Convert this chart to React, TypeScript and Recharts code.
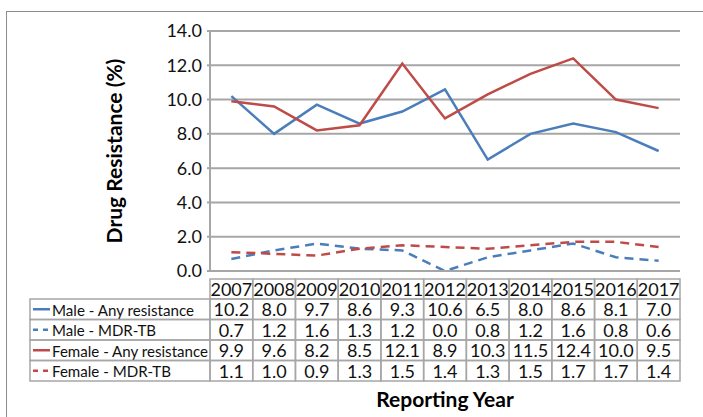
import React from "react";
import { LineChart, Line, XAxis, YAxis, CartesianGrid } from "recharts";

const YEARS = ["2007", "2008", "2009", "2010", "2011", "2012", "2013", "2014", "2015", "2016", "2017"];
const MALE_ANY = [10.2, 8.0, 9.7, 8.6, 9.3, 10.6, 6.5, 8.0, 8.6, 8.1, 7.0];
const MALE_MDR = [0.7, 1.2, 1.6, 1.3, 1.2, 0.0, 0.8, 1.2, 1.6, 0.8, 0.6];
const FEMALE_ANY = [9.9, 9.6, 8.2, 8.5, 12.1, 8.9, 10.3, 11.5, 12.4, 10.0, 9.5];
const FEMALE_MDR = [1.1, 1.0, 0.9, 1.3, 1.5, 1.4, 1.3, 1.5, 1.7, 1.7, 1.4];
const Y_TICKS = [0, 2, 4, 6, 8, 10, 12, 14];

const BLUE = "#4a7ebb";
const RED = "#be4b48";
const GRID = "#a6a6a6";
const FONT = "Lato, 'Open Sans', sans-serif";

const SERIES = [
  { key: "maleAny", name: "Male - Any resistance", values: MALE_ANY, color: BLUE, dash: undefined as string | undefined },
  { key: "maleMdr", name: "Male - MDR-TB", values: MALE_MDR, color: BLUE, dash: "9 6" },
  { key: "femaleAny", name: "Female - Any resistance", values: FEMALE_ANY, color: RED, dash: undefined },
  { key: "femaleMdr", name: "Female - MDR-TB", values: FEMALE_MDR, color: RED, dash: "9 6" },
];

// rendered widths of the legend labels in the table (the original font is narrower)
const LEGEND_TEXT_LEN = [142, 104, 156, 119];

const data = YEARS.map((year, i) => {
  const row: Record<string, string | number> = { year };
  for (const s of SERIES) row[s.key] = s.values[i];
  return row;
});

const W = 703;
const H = 417;
const MARGIN = { top: 31, right: 23, bottom: 0, left: 0 };
const Y_AXIS_W = 210;
const X_AXIS_H = 146;
const CELL_W = (W - MARGIN.left - Y_AXIS_W - MARGIN.right) / YEARS.length;
const HEADER_H = 20;
const ROW_H = 20.5;
const LEGEND_LEFT = 30;
const TABLE_FONT = 18;

const TableTick = (props: any) => {
  const { x, y, payload, index } = props;
  const left = x - CELL_W / 2;
  const i = index as number;
  return (
    <g fontFamily={FONT} fontSize={TABLE_FONT} fill="#111">
      <rect x={left} y={y} width={CELL_W} height={HEADER_H} fill="none" stroke={GRID} strokeWidth={1.5} />
      <text x={x} y={y + HEADER_H - 3} textAnchor="middle">
        {payload.value}
      </text>
      {SERIES.map((s, r) => {
        const top = y + HEADER_H + r * ROW_H;
        return (
          <g key={s.key}>
            <rect x={left} y={top} width={CELL_W} height={ROW_H} fill="none" stroke={GRID} strokeWidth={1.5} />
            <text x={x} y={top + ROW_H - 3.5} textAnchor="middle">
              {s.values[i].toFixed(1)}
            </text>
          </g>
        );
      })}
      {i === 0 &&
        SERIES.map((s, r) => {
          const top = y + HEADER_H + r * ROW_H;
          return (
            <g key={"lg" + s.key}>
              <rect
                x={LEGEND_LEFT}
                y={top}
                width={left - LEGEND_LEFT}
                height={ROW_H}
                fill="none"
                stroke={GRID}
                strokeWidth={1.5}
              />
              <line
                x1={LEGEND_LEFT + 3}
                x2={LEGEND_LEFT + 20}
                y1={top + ROW_H / 2}
                y2={top + ROW_H / 2}
                stroke={s.color}
                strokeWidth={2.5}
                strokeDasharray={s.dash ? "5 5" : undefined}
              />
              <text
                x={LEGEND_LEFT + 22}
                y={top + ROW_H - 4}
                fontSize={16}
                textLength={LEGEND_TEXT_LEN[r]}
                lengthAdjust="spacingAndGlyphs"
              >
                {s.name}
              </text>
            </g>
          );
        })}
    </g>
  );
};

export default function App() {
  return (
    <div style={{ position: "absolute", left: 0, top: 0, width: W, height: H, overflow: "hidden", background: "#fff" }}>
      <div
        style={{
          position: "absolute",
          left: 6,
          top: 11,
          width: 800,
          height: 500,
          border: "1px solid #8c8c8c",
        }}
      />
      <div style={{ position: "absolute", left: 0, top: 0 }}>
        <LineChart width={W} height={H} data={data} margin={MARGIN}>
          <CartesianGrid vertical={false} stroke={GRID} strokeWidth={2} />
          <XAxis
            dataKey="year"
            height={X_AXIS_H}
            interval={0}
            padding={{ left: CELL_W / 2, right: CELL_W / 2 }}
            tickSize={0}
            tickMargin={8}
            tickLine={false}
            axisLine={{ stroke: GRID, strokeWidth: 2 }}
            tick={<TableTick />}
            label={({ viewBox }: any) => (
              <text
                x={viewBox.x + viewBox.width / 2}
                y={viewBox.y + 136}
                textAnchor="middle"
                fontFamily={FONT}
                fontWeight="bold"
                fontSize={21}
                fill="#000"
              >
                Reporting Year
              </text>
            )}
          />
          <YAxis
            width={Y_AXIS_W}
            domain={[0, 14]}
            ticks={Y_TICKS}
            tickFormatter={(v: number) => v.toFixed(1)}
            tickSize={3}
            tickMargin={5}
            tickLine={{ stroke: GRID, strokeWidth: 2 }}
            axisLine={{ stroke: GRID, strokeWidth: 2 }}
            tick={{ fill: "#111", fontFamily: FONT, fontSize: TABLE_FONT }}
            label={({ viewBox }: any) => {
              const cx = 122;
              const cy = viewBox.y + viewBox.height / 2;
              return (
                <text
                  x={cx}
                  y={cy}
                  transform={`rotate(-90, ${cx}, ${cy})`}
                  textAnchor="middle"
                  fontFamily={FONT}
                  fontWeight="bold"
                  fontSize={21}
                  fill="#000"
                >
                  Drug Resistance (%)
                </text>
              );
            }}
          />
          {SERIES.map((s) => (
            <Line
              key={s.key}
              dataKey={s.key}
              name={s.name}
              type="linear"
              stroke={s.color}
              strokeWidth={2.5}
              strokeDasharray={s.dash}
              dot={false}
              activeDot={false}
              isAnimationActive={false}
            />
          ))}
        </LineChart>
      </div>
    </div>
  );
}
